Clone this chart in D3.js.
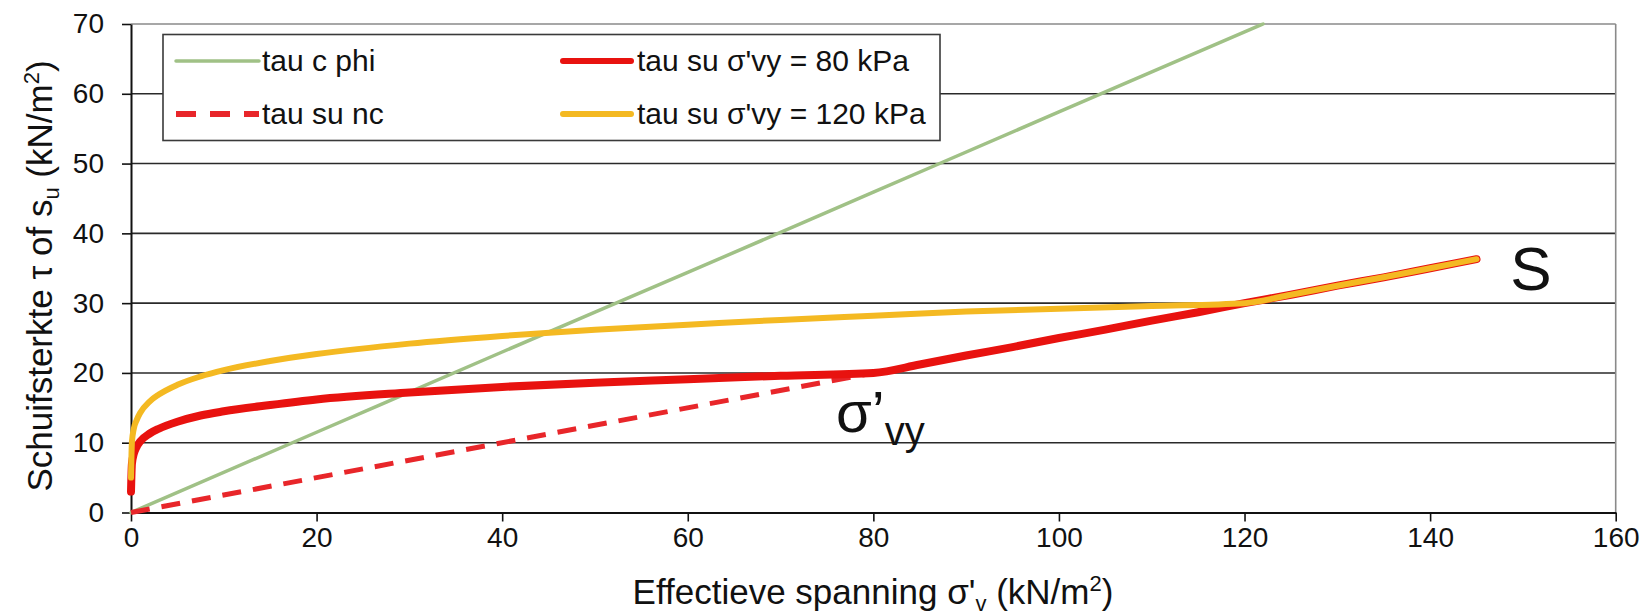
<!DOCTYPE html>
<html>
<head>
<meta charset="utf-8">
<script src="https://cdn.jsdelivr.net/npm/d3@7"></script>
<style>
	body { margin:0; background:#fff; }
	svg text { font-family: "Liberation Sans", Arial, sans-serif; fill:#111; }
</style>
</head>
<body>
<div id="c-svg"></div>
<script>
//values: [sigma'v, tau]
let tauCPhi = [[0,0],[20,11.5],[40,23],[60,34.4],[80,45.9],[100,57.4],[122,70]];
let tauSuNc = [[0,0],[80,20]];
let tauSu80 = [[0,3],[0.1,7],[0.3,8.4],[0.6,9.4],[1,10.2],[2,11.3],[3,12],[5,13],[7.5,13.9],[10,14.5],[15,15.4],[20,16.2],[30,17.2],[40,18],[50,18.6],[60,19.1],[70,19.6],[80,20],
	[85,21.2],[90,22.5],[95,23.7],[100,25],[105,26.2],[110,27.5],[115,28.7],[120,30],[125,31.2],[130,32.5],[135,33.7],[140,35],[145,36.3]];
let tauSu120 = [[0,5],[0.1,10.1],[0.3,12],[0.6,13.2],[1,14.3],[2,15.9],[3,16.9],[5,18.3],[7.5,19.5],[10,20.4],[15,21.7],[20,22.7],[30,24.2],[40,25.3],[50,26.2],[60,26.9],[70,27.6],[80,28.2],[90,28.8],[100,29.2],[110,29.6],[120,30],
	[125,31.2],[130,32.5],[135,33.7],[140,35],[145,36.3]];

let xTicks = [0,20,40,60,80,100,120,140,160];
let yTicks = [0,10,20,30,40,50,60,70];

let legendNames = ["tau c phi","tau su nc","tau su σ'vy = 80 kPa","tau su σ'vy = 120 kPa"];

function graph(){

	let width = 1650, height = 615;

	let svg = d3.select("#c-svg")
		.append("svg")
		.attr("width", width)
		.attr("height", height);

	const xScale = d3.scaleLinear().domain([0,160]).range([131, 1615.7]);
	const yScale = d3.scaleLinear().domain([0,70]).range([512.5, 24]);

	//gridlines
	svg.append("g")
		.selectAll("line")
		.data(yTicks.filter(d => d > 0))
		.join("line")
		.attr("x1", xScale(0)).attr("x2", xScale(160))
		.attr("y1", d => yScale(d)).attr("y2", d => yScale(d))
		.attr("stroke", d => d === 70 ? "#8a8a8a" : "#2a2a2a")
		.attr("stroke-width", 1.6);

	//right border
	svg.append("line")
		.attr("x1", xScale(160)).attr("x2", xScale(160))
		.attr("y1", yScale(70)).attr("y2", yScale(0))
		.attr("stroke", "#8a8a8a").attr("stroke-width", 1.6);

	//axes
	const xAxis = d3.axisBottom(xScale).tickValues(xTicks).tickSize(9).tickSizeOuter(0).tickPadding(6);
	const yAxis = d3.axisLeft(yScale).tickValues(yTicks).tickSize(9).tickSizeOuter(0).tickPadding(18);

	let gx = svg.append("g")
		.attr("transform", `translate(0,${yScale(0)})`)
		.call(xAxis);
	let gy = svg.append("g")
		.attr("transform", `translate(${xScale(0)},0)`)
		.call(yAxis);

	[gx, gy].forEach(g => {
		g.select(".domain").attr("stroke", "#111").attr("stroke-width", 2);
		g.selectAll(".tick line").attr("stroke", "#111").attr("stroke-width", 1.6);
		g.selectAll(".tick text")
			.attr("font-family", "Liberation Sans, Arial, sans-serif")
			.attr("font-size", 28)
			.attr("fill", "#111");
	});

	//lines
	const line = d3.line()
		.x(d => xScale(d[0]))
		.y(d => yScale(d[1]))
		.curve(d3.curveMonotoneX);

	let series = [
		{data: tauCPhi, color: "#a0c186", w: 3.5, dash: null},
		{data: tauSuNc, color: "#e8262a", w: 5, dash: "19,12"},
		{data: tauSu80, color: "#e8120f", w: 8, dash: null},
		{data: tauSu120, color: "#f4b922", w: 6, dash: null}
	];

	svg.append("g")
		.selectAll("path")
		.data(series)
		.join("path")
		.attr("d", d => line(d.data))
		.attr("fill", "none")
		.attr("stroke", d => d.color)
		.attr("stroke-width", d => d.w)
		.attr("stroke-dasharray", d => d.dash)
		.attr("stroke-linecap", d => d.dash ? "butt" : "round")
		.attr("stroke-linejoin", "round");

	//legend
	let legend = svg.append("g");
	legend.append("rect")
		.attr("x", 163).attr("y", 34.5)
		.attr("width", 777).attr("height", 106)
		.attr("fill", "#fff")
		.attr("stroke", "#3a3a3a").attr("stroke-width", 1.6);

	let legendPos = [[176, 61, 259, 262],[176, 114, 259, 262],[563, 61, 631, 637],[563, 114, 631, 637]];
	legendNames.forEach((name, i) => {
		let s = series[i];
		let p = legendPos[i];
		legend.append("line")
			.attr("x1", p[0]).attr("x2", p[2])
			.attr("y1", p[1]).attr("y2", p[1])
			.attr("stroke", s.color)
			.attr("stroke-width", s.w === 3.5 ? 3.5 : 6)
			.attr("stroke-dasharray", s.dash ? "20,14" : null)
			.attr("stroke-linecap", s.dash ? "butt" : "round");
		legend.append("text")
			.attr("x", p[3])
			.attr("y", p[1] + 10)
			.attr("font-size", 30)
			.text(name);
	});

	//axis titles
	let xt = svg.append("text")
		.attr("x", 873).attr("y", 604)
		.attr("text-anchor", "middle")
		.attr("font-size", 35);
	xt.append("tspan").text("Effectieve spanning  σ'");
	xt.append("tspan").attr("font-size", 22).attr("dy", 7).text("v");
	xt.append("tspan").attr("dy", -7).text(" (kN/m");
	xt.append("tspan").attr("font-size", 22).attr("dy", -13).text("2");
	xt.append("tspan").attr("dy", 13).text(")");

	let yt = svg.append("text")
		.attr("transform", "translate(52,276) rotate(-90)")
		.attr("text-anchor", "middle")
		.attr("font-size", 35);
	yt.append("tspan").text("Schuifsterkte τ of s");
	yt.append("tspan").attr("font-size", 22).attr("dy", 7).text("u");
	yt.append("tspan").attr("dy", -7).text(" (kN/m");
	yt.append("tspan").attr("font-size", 22).attr("dy", -13).text("2");
	yt.append("tspan").attr("dy", 13).text(")");

	//annotations
	svg.append("text")
		.attr("x", 1531).attr("y", 290)
		.attr("text-anchor", "middle")
		.attr("font-size", 62)
		.text("S");

	let sv = svg.append("text")
		.attr("x", 836).attr("y", 432)
		.attr("font-size", 58);
	sv.append("tspan").text("σ’");
	sv.append("tspan").attr("font-size", 40).attr("dy", 13).text("vy");

}

graph();
</script>
</body>
</html>
